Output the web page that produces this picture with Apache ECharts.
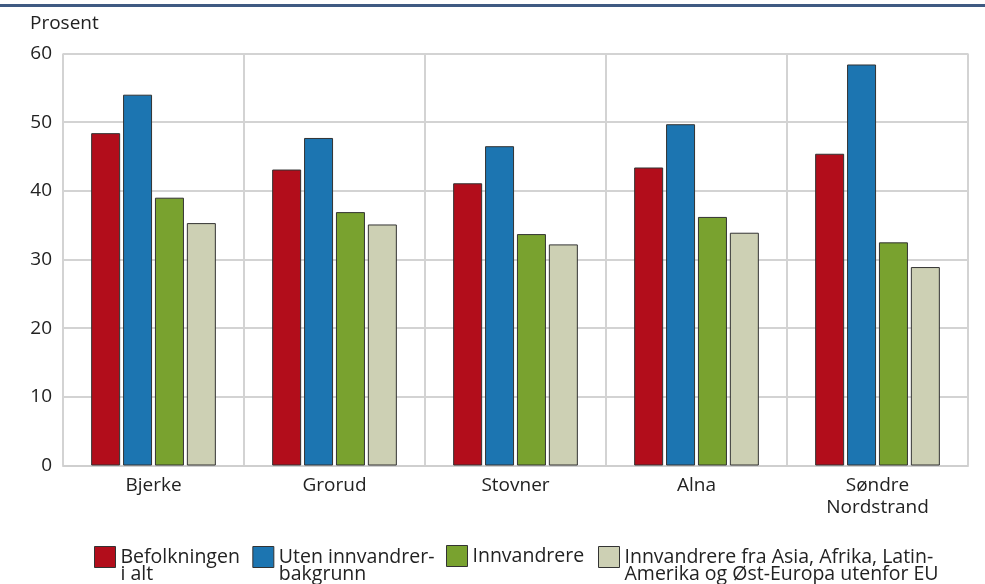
<!DOCTYPE html>
<html><head><meta charset="utf-8">
<script src="https://cdn.jsdelivr.net/npm/echarts@6/dist/echarts.min.js"></script>
<style>html,body{margin:0;padding:0;background:#fff}#c{width:985px;height:584px}</style>
</head><body><div id="c"></div>
<script>
const categories = ['Bjerke', 'Grorud', 'Stovner', 'Alna', 'Søndre\nNordstrand'];
const seriesNames = ['Befolkningen\ni alt', 'Uten innvandrer-\nbakgrunn', 'Innvandrere', 'Innvandrere fra Asia, Afrika, Latin-\nAmerika og Øst-Europa utenfor EU'];
const befolkningen = [48.4, 43.1, 41.1, 43.4, 45.4];
const utenInnvandrer = [54.0, 47.7, 46.5, 49.7, 58.4];
const innvandrere = [39.0, 36.9, 33.7, 36.2, 32.5];
const innvandrereAsia = [35.3, 35.1, 32.2, 33.9, 28.9];
const yTicks = {min: 0, max: 60, interval: 10};
const colors = ['#b20d1b', '#1c75b1', '#79a22f', '#cdd0b4'];
const values = [befolkningen, utenInnvandrer, innvandrere, innvandrereAsia];
const font = '"Open Sans", sans-serif';

function legendPart(names, left, multiLine) {
  return {
    top: multiLine ? 525 : 540, left: left,
    itemWidth: 21, itemHeight: 21, itemGap: 12.5,
    icon: 'rect',
    formatter: multiLine ? (n => ' \n' + n) : (n => n),
    textStyle: {fontSize: 19.5, color: '#222', lineHeight: 17, fontFamily: font},
    itemStyle: {borderColor: '#333', borderWidth: 1},
    data: names
  };
}

const chart = echarts.init(document.getElementById('c'));
chart.setOption({
  animation: false,
  color: colors,
  textStyle: {fontFamily: font},
  graphic: [
    {type: 'rect', shape: {x: 0, y: 4, width: 985, height: 3}, style: {fill: '#3f5a82'}},
    {type: 'text', left: 30, top: 14, style: {text: 'Prosent', font: '19px ' + font, fill: '#222'}}
  ],
  grid: {left: 63, right: 17, top: 53.5, bottom: 118.5, containLabel: false},
  legend: [
    legendPart([seriesNames[0], seriesNames[1]], 89, true),
    legendPart([seriesNames[2]], 441, false),
    legendPart([seriesNames[3]], 593, true)
  ],
  xAxis: {
    type: 'category', data: categories,
    axisLine: {show: true, lineStyle: {color: '#cfcfcf', width: 2}},
    axisTick: {show: false},
    splitLine: {show: true, lineStyle: {color: '#d3d3d3', width: 2}},
    axisLabel: {fontSize: 19, color: '#222', margin: 9, lineHeight: 22, fontFamily: font}
  },
  yAxis: {
    type: 'value', min: yTicks.min, max: yTicks.max, interval: yTicks.interval,
    axisLine: {show: false}, axisTick: {show: false},
    splitLine: {lineStyle: {color: '#d3d3d3', width: 2}},
    axisLabel: {fontSize: 19, color: '#222', margin: 11, fontFamily: font}
  },
  series: values.map((v, i) => ({
    name: seriesNames[i], type: 'bar', data: v,
    barWidth: 29, barGap: '10%',
    itemStyle: {color: colors[i], borderColor: '#333', borderWidth: 1}
  }))
});
</script></body></html>
